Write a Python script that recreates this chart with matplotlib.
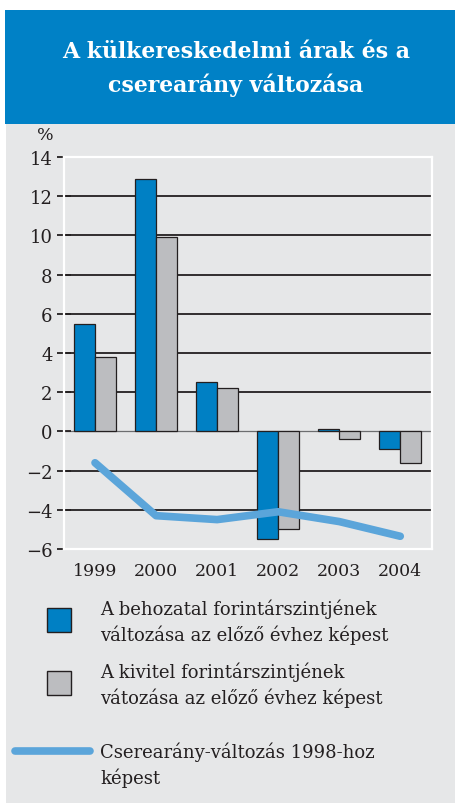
import matplotlib
matplotlib.use("Agg")
import matplotlib.pyplot as plt
from matplotlib.patches import Rectangle
from matplotlib.lines import Line2D
import numpy as np

years = ["1999", "2000", "2001", "2002", "2003", "2004"]
behozatal = [5.5, 12.9, 2.5, -5.5, 0.1, -0.9]
kivitel = [3.8, 9.9, 2.2, -5.0, -0.4, -1.6]
cserearany = [-1.6, -4.3, -4.5, -4.1, -4.6, -5.35]
yticks = [-6, -4, -2, 0, 2, 4, 6, 8, 10, 12, 14]
ytick_labels = ["\u22126", "\u22124", "\u22122", "0", "2", "4", "6", "8", "10", "12", "14"]

BLUE = "#0080c4"
GREY = "#bcbdc0"
LINE = "#5ba5da"
BG = "#e6e7e8"
INK = "#231f20"
serif = "DejaVu Serif"

fig = plt.figure(figsize=(4.6, 8.04), dpi=100)
W, H = 460, 804

def fx(px):
    return px / W

def fy(py):
    return 1 - py / H

# background panels
fig.patches.append(Rectangle((fx(6), 0), fx(449), fy(125), transform=fig.transFigure,
                             facecolor=BG, edgecolor="none", zorder=-2))
fig.patches.append(Rectangle((fx(5), fy(125)), fx(450), (125 - 11) / H, transform=fig.transFigure,
                             facecolor="#0081c6", edgecolor="none", zorder=-2))
fig.text(fx(236), fy(52), "A külkereskedelmi árak és a", ha="center", va="center",
         color="white", fontsize=15.8, fontweight="bold", family=serif)
fig.text(fx(236), fy(85), "cserearány változása", ha="center", va="center",
         color="white", fontsize=15.8, fontweight="bold", family=serif)

ax = fig.add_axes([fx(64), fy(550), fx(432 - 64), (550 - 158) / H])
ax.set_zorder(1)
ax.set_facecolor(BG)
x = np.arange(len(years))
bw = 0.345
ax.bar(x - bw / 2, behozatal, bw, color=BLUE, edgecolor=INK, linewidth=0.9, zorder=2)
ax.bar(x + bw / 2, kivitel, bw, color=GREY, edgecolor=INK, linewidth=0.9, zorder=2)
ax.plot(x, cserearany, color=LINE, linewidth=5.5, solid_capstyle="round", zorder=4)

ax.set_xlim(-0.508, 5.52)
ax.set_ylim(-6, 14)
ax.set_yticks(yticks)
ax.set_yticklabels(ytick_labels, family=serif, fontsize=13, color=INK)
ax.set_xticks(x)
ax.set_xticklabels(years, family=serif, fontsize=12.5, color=INK)
ax.tick_params(axis="x", length=0, pad=9)
ax.tick_params(axis="y", direction="inout", length=10.5, width=1.3, color=INK, pad=3)

for v in yticks[1:-1]:
    if v == 0:
        ax.axhline(v, color="#6d6e70", linewidth=0.9, zorder=1)
    else:
        ax.axhline(v, color=INK, linewidth=1.3, zorder=1)

for s in ax.spines.values():
    s.set_color("white")
    s.set_linewidth(1.6)
    s.set_zorder(3)

fig.text(fx(45), fy(135), "%", ha="center", va="center", family=serif, fontsize=12.5, color=INK)

# legend
fig.patches.append(Rectangle((fx(47), fy(633)), fx(24), 24 / H, transform=fig.transFigure,
                             facecolor=BLUE, edgecolor=INK, linewidth=1))
fig.patches.append(Rectangle((fx(47), fy(696)), fx(24), 24 / H, transform=fig.transFigure,
                             facecolor=GREY, edgecolor=INK, linewidth=1))
fig.lines.append(Line2D([fx(15), fx(90)], [fy(752), fy(752)], transform=fig.transFigure,
                        color=LINE, linewidth=5.5, solid_capstyle="round"))
legend_texts = [
    (622, "A behozatal forintárszintjének\nváltozása az előző évhez képest"),
    (685, "A kivitel forintárszintjének\nvátozása az előző évhez képest"),
    (765, "Cserearány-változás 1998-hoz\nképest"),
]
for ypx, t in legend_texts:
    fig.text(fx(100), fy(ypx), t, ha="left", va="center", family=serif, fontsize=13,
             color=INK, linespacing=1.45)

fig.savefig("out.png", dpi=100)
